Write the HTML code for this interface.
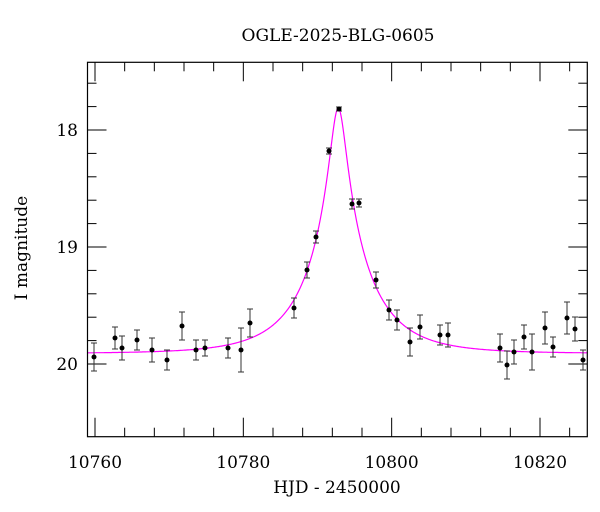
<!DOCTYPE html>
<html><head><meta charset="utf-8"><style>
html,body{margin:0;padding:0;background:#fff;}
svg{display:block;font-family:"DejaVu Serif","Liberation Serif",serif;}
</style></head><body>
<svg id="s" width="600" height="512" xmlns="http://www.w3.org/2000/svg">
<rect width="600" height="512" fill="#fff"/>
<text x="338" y="41" font-size="17" text-anchor="middle">OGLE-2025-BLG-0605</text>
<text x="337" y="493" font-size="17" text-anchor="middle">HJD - 2450000</text>
<text x="0" y="0" font-size="17" text-anchor="middle" transform="translate(27,248) rotate(-90)">I magnitude</text>
<g id="ax" stroke="#000" stroke-width="1" fill="none"></g>
<g id="lab" font-size="17"></g>
<path id="curve" fill="none" stroke="#ff00ff" stroke-width="1.2"/>
<g id="pts"></g>
<rect x="87.5" y="62.3" width="499.8" height="374.4" fill="none" stroke="#000" stroke-width="1.2"/>
</svg>
<script>
var L=87.5,R=587.3,T=62.3,B=436.7;
function X(t){return 95+(t-10760)*148.33/20;}
function Y(m){return 130+(m-18)*117;}
var ax=document.getElementById('ax'),lab=document.getElementById('lab'),h='',lh='';
for(var t=10760;t<=10826;t+=4){var x=X(t),maj=(t%20==0),l=maj?19:9;
 h+='<line x1="'+x+'" y1="'+B+'" x2="'+x+'" y2="'+(B-l)+'"/><line x1="'+x+'" y1="'+T+'" x2="'+x+'" y2="'+(T+l)+'"/>';
 if(maj)lh+='<text x="'+x+'" y="468" text-anchor="middle">'+t+'</text>';}
for(var i=-2;i<=13;i++){var m=17.4+i*0.2;var y=Y(m);if(y<T||y>B)continue;var maj=Math.abs(m-Math.round(m))<0.01,l=maj?19:9;
 h+='<line x1="'+L+'" y1="'+y+'" x2="'+(L+l)+'" y2="'+y+'"/><line x1="'+R+'" y1="'+y+'" x2="'+(R-l)+'" y2="'+y+'"/>';
 if(maj)lh+='<text x="78" y="'+(y+6)+'" text-anchor="end">'+Math.round(m)+'</text>';}
ax.innerHTML=h;lab.innerHTML=lh;
var t0=10792.8,u0=0.12,tE=8.5,fs=0.8,base=19.91,d='';
for(var x=L;x<=R;x+=0.5){var t=10760+(x-95)*20/148.33;var tau=(t-t0)/tE;var u=Math.sqrt(u0*u0+tau*tau);
 var A=(u*u+2)/(u*Math.sqrt(u*u+4));var y=Y(base-2.5*Math.log10(fs*A+1-fs));d+=(d?'L':'M')+x.toFixed(1)+' '+y.toFixed(1);}
document.getElementById('curve').setAttribute('d',d);
var P=[[94,357,14],[115,338,11],[122,348,12],[137,340,10],[152,350,12],[167,360,10],[182,326,14],[196,350,10],[205,348,8],[228,348,10],[241,350,22],[250,323,14],[294,308,10],[307,270,8],[316,237,6],[329,151,3],[339,109,2],[352,204,5],[359,203,4],[376,280,8],[389,310,10],[397,320,10],[410,342,14],[420,327,12],[440,335,10],[448,335,12],[500,348,14],[507,365,14],[514,352,12],[524,337,12],[532,352,18],[545,328,16],[553,347,10],[567,318,16],[575,329,12],[583,360,10]];
var g='';P.forEach(function(p){var x=p[0],y=p[1],e=p[2];
 g+='<line x1="'+x+'" y1="'+(y-e)+'" x2="'+x+'" y2="'+(y+e)+'" stroke="#333" stroke-width="1"/>';
 g+='<line x1="'+(x-3)+'" y1="'+(y-e)+'" x2="'+(x+3)+'" y2="'+(y-e)+'" stroke="#333"/><line x1="'+(x-3)+'" y1="'+(y+e)+'" x2="'+(x+3)+'" y2="'+(y+e)+'" stroke="#333"/>';
 g+='<circle cx="'+x+'" cy="'+y+'" r="2.5" fill="#000"/>';});
document.getElementById('pts').innerHTML=g;
</script>
</body></html>
